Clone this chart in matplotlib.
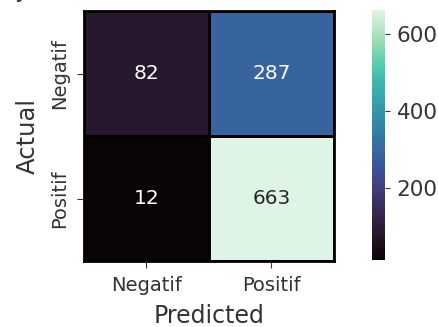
import matplotlib
matplotlib.use("Agg")
import matplotlib.pyplot as plt
import numpy as np
import seaborn as sns

labels = ["Negatif", "Positif"]
cm = np.array([[82, 287],
               [12, 663]])

fig = plt.figure(figsize=(4.39, 3.27), dpi=100)
ax = fig.add_axes([84 / 439, 1 - 261 / 327, 250 / 439, 250 / 327])
cax = fig.add_axes([372 / 439, 1 - 260 / 327, 13 / 439, 250 / 327])

sns.heatmap(cm, annot=True, fmt="d", cmap="mako", ax=ax, cbar_ax=cax,
            linewidths=2, linecolor="black", annot_kws={"fontsize": 14.5},
            xticklabels=labels, yticklabels=labels)

for side in ["top", "bottom", "left", "right"]:
    ax.spines[side].set_visible(True)
    ax.spines[side].set_linewidth(2)
    ax.spines[side].set_color("black")

ax.set_xlabel("Predicted", fontsize=17, color="#333333", labelpad=6)
ax.set_ylabel("Actual", fontsize=17.5, color="#333333", labelpad=7)
ax.tick_params(axis="both", labelsize=14, colors="#333333", labelcolor="#333333",
               length=5, pad=6)
plt.setp(ax.get_yticklabels(), rotation=90, va="center")
plt.setp(ax.get_xticklabels(), rotation=0)

cax.tick_params(labelsize=15.5, labelcolor="#333333", colors="#333333", pad=5)
cax.set_yticks([200, 400, 600])

# piece of a title cut off at the top edge
fig.text(14 / 439, 1 + 3 / 327, "y", fontsize=17, va="baseline", color="#333333")

fig.savefig("out.png", dpi=100)
